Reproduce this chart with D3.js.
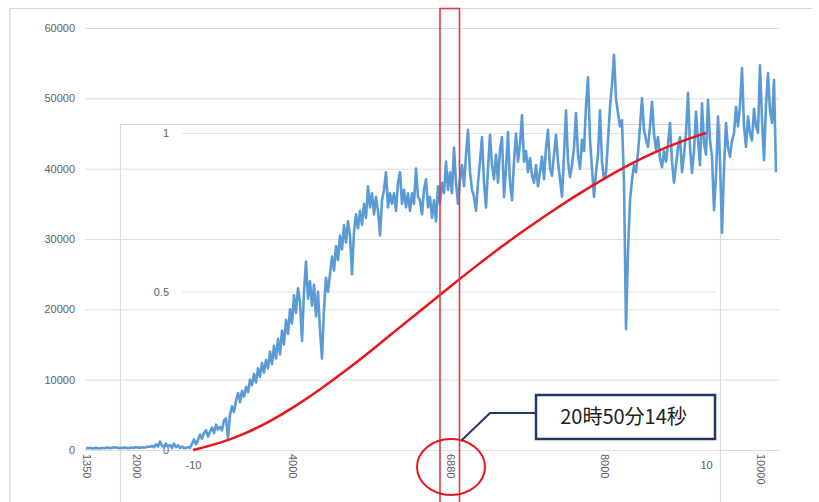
<!DOCTYPE html>
<html>
<head>
<meta charset="utf-8">
<script src="https://cdn.jsdelivr.net/npm/d3@7"></script>
<style>
  html, body { margin: 0; padding: 0; background: #fff; }
  svg { display: block; }
  text { font-family: "Liberation Sans", Arial, sans-serif; }
</style>
</head>
<body>
<svg id="chart" width="819" height="502"></svg>
<script>
// Measured throughput per sample (outer chart, left axis)
const throughput = [
  300, 250, 300, 200, 250, 300, 250, 200, 300, 250,
  300, 350, 250, 300, 400, 350, 300, 250, 300, 350,
  300, 250, 300, 350, 300, 400, 350, 300, 400, 350,
  400, 500, 450, 600, 400, 800, 500, 1200, 600, 400,
  900, 500, 700, 300, 900, 400, 700, 300, 500, 250,
  300, 400, 300, 900, 1500, 800, 1400, 2200, 1600, 2400,
  2800, 1900, 2600, 3200, 2400, 3600, 2900, 3300, 2800, 4200,
  4500, 1700, 5000, 6200, 5400, 7000, 8100, 6800, 8400, 7600,
  9000, 8200, 10000, 9200, 10800, 9600, 11600, 10400, 12400, 11000,
  12800, 11600, 14000, 12200, 14800, 13000, 15800, 13600, 17000, 15000,
  18500, 16500, 20000, 18000, 22000, 19500, 23000, 21000, 15500, 22500,
  26800, 21500, 24000, 20500, 23500, 19000, 22500, 17000, 13000, 20000,
  24500, 22500, 25000, 27500, 25500, 29000, 27000, 30500, 28500, 32000,
  29500, 32500, 30500, 25000, 31000, 33500, 31500, 34000, 32000, 35000,
  33000, 37500, 34500, 36500, 33500, 36000, 34000, 30500, 35500, 37000,
  39500, 34500, 36500, 35000, 36500, 34000, 38000, 39500, 35000, 37000,
  34500, 36500, 34000, 36500, 35000, 40000, 36000, 35500, 33500, 37000,
  38500, 34500, 36000, 33000, 35500, 32500, 37500, 35000, 38000, 36500,
  41000, 37000, 39500, 36500, 43000, 38000, 35000, 38500, 40500, 37500,
  42000, 45500, 39500, 37000, 36000, 34000, 38000, 41000, 44500, 38000,
  34500, 40000, 44800, 40500, 38500, 42000, 38000, 42700, 44500, 36000,
  40000, 45200, 38000, 35500, 41000, 45000, 41000, 43500, 47600, 41000,
  42500, 39500, 41500, 39000, 38000, 40500, 37500, 39500, 41700, 38500,
  43000, 45500, 40000, 39000, 42000, 44800, 41000, 38500, 36000, 42000,
  48300, 41000, 38800, 40500, 43000, 47900, 42000, 40000, 44100, 42500,
  49000, 53000, 44100, 40000, 36000, 39500, 42000, 48300, 41000, 38500,
  39400, 44000, 48800, 52000, 56200, 50000, 47900, 46000, 46900, 38000,
  17200, 28000, 35500, 38400, 40500, 39500, 42200, 46000, 50000, 45500,
  44100, 43100, 46000, 49500, 45000, 42700, 44500, 41500, 40200, 42500,
  41000, 43500, 46500, 41000, 38000, 40500, 43000, 44500, 39500, 42000,
  45000, 50800, 43000, 39400, 42500, 48100, 44000, 40500, 49300, 43500,
  42000, 49800, 44000, 41700, 34100, 39000, 47400, 41000, 30900, 40000,
  46500, 43000, 41700, 44000, 45000, 48800, 46000, 49000, 54300, 46000,
  43100, 47400, 45000, 44000, 48500, 46000, 45100, 54700, 47000, 41200,
  49000, 53600, 48300, 46500, 52600, 39500
];

// Outer category axis: sample positions that carry a label, and the labels
const sampleTickIdx = [0, 25, 103, 182, 259, 337];
const sampleTickLabels = ["1350", "2000", "4000", "6880", "8000", "10000"];
const throughputTicks = [0, 10000, 20000, 30000, 40000, 50000, 60000];

// Inner overlay: cumulative curve over -10..10
const curveX = [-10, -9, -8, -7, -6, -5, -4, -3, -2, -1, 0, 1, 2, 3, 4, 5, 6, 7, 8, 9, 10];
const curveY = [0, 0.02, 0.05, 0.09, 0.138, 0.193, 0.253, 0.317, 0.383, 0.448, 0.514,
                0.578, 0.64, 0.698, 0.754, 0.806, 0.855, 0.9, 0.94, 0.973, 1.0];
const curveYTicks = [0, 0.5, 1];
const curveXTicks = [-10, 10];

// Highlighted sample and its time stamp
const markedSample = 182;
const markedTime = "20時50分14秒";

const svg = d3.select("#chart");

// ---------- outer chart ----------
const xOuter = d3.scaleLinear().domain([0, throughput.length - 1]).range([86, 776]);
const yOuter = d3.scaleLinear().domain([0, 60000]).range([450, 28]);
const gridL = 85, gridR = 780;

// chart frame (top and left edges)
svg.append("path")
  .attr("d", "M10,510 V8.5 H812")
  .attr("fill", "none").attr("stroke", "#d9d9d9").attr("stroke-width", 1.2);

const yAx = svg.append("g")
  .attr("transform", `translate(${gridL},0)`)
  .call(d3.axisLeft(yOuter).tickValues(throughputTicks)
    .tickSize(-(gridR - gridL)).tickPadding(10).tickFormat(d3.format("d")));
yAx.select(".domain").remove();
yAx.selectAll("line").attr("stroke", "#dcdcdc").attr("stroke-width", 1);
yAx.selectAll("text").attr("fill", "#606060").style("font-size", "11px");

const xAx = svg.append("g")
  .attr("transform", `translate(0,${yOuter(0)})`)
  .call(d3.axisBottom(xOuter).tickValues(sampleTickIdx).tickSize(0)
    .tickFormat((d, i) => sampleTickLabels[i]));
xAx.select(".domain").remove();
xAx.selectAll("text")
  .attr("transform", "rotate(90)")
  .attr("x", 4).attr("y", 0).attr("dy", "0.35em")
  .style("text-anchor", "start")
  .attr("fill", "#606060").style("font-size", "11px");

// ---------- inner overlay chart ----------
const xInner = d3.scaleLinear().domain([-10, 10]).range([193, 706]);
const yInner = d3.scaleLinear().domain([0, 1]).range([450, 133]);
const innerGridL = 182, innerGridR = 716;

svg.append("path")
  .attr("d", "M120.5,510 V124.5 H720.5 V510")
  .attr("fill", "none").attr("stroke", "#d9d9d9").attr("stroke-width", 1.2);

const yiAx = svg.append("g")
  .attr("transform", `translate(${innerGridL},0)`)
  .call(d3.axisLeft(yInner).tickValues(curveYTicks)
    .tickSize(-(innerGridR - innerGridL)).tickPadding(13).tickFormat(d => String(d)));
yiAx.select(".domain").remove();
yiAx.selectAll("line").attr("stroke", "#e2e2e2").attr("stroke-width", 1);
yiAx.selectAll("text").attr("fill", "#606060").style("font-size", "11px");

const xiAx = svg.append("g")
  .attr("transform", `translate(0,${yInner(0)})`)
  .call(d3.axisBottom(xInner).tickValues(curveXTicks).tickSize(0).tickPadding(11)
    .tickFormat(d => String(d)));
xiAx.select(".domain").remove();
xiAx.selectAll("text").attr("fill", "#606060").style("font-size", "11px");

// ---------- series ----------
svg.append("path")
  .datum(throughput)
  .attr("fill", "none")
  .attr("stroke", "#5b9bd5")
  .attr("stroke-width", 2.6)
  .attr("stroke-linejoin", "round")
  .attr("d", d3.line().x((d, i) => xOuter(i)).y(d => yOuter(d)));

svg.append("path")
  .datum(curveX.map((x, i) => [x, curveY[i]]))
  .attr("fill", "none")
  .attr("stroke", "#e8161b")
  .attr("stroke-width", 2.5)
  .attr("d", d3.line().curve(d3.curveBasis)
    .x(d => xInner(d[0])).y(d => yInner(d[1])));

// ---------- annotations ----------
const mx = xOuter(markedSample);
svg.append("rect")
  .attr("x", mx - 10).attr("y", 8.5)
  .attr("width", 19.5).attr("height", 520)
  .attr("fill", "none").attr("stroke", "#e23a44").attr("stroke-width", 1.6);

svg.append("ellipse")
  .attr("cx", mx + 1).attr("cy", 467)
  .attr("rx", 34).attr("ry", 28)
  .attr("fill", "none").attr("stroke", "#e8161b").attr("stroke-width", 2);

// callout with leader line
const boxX = 536, boxY = 395, boxW = 179, boxH = 44;
svg.append("path")
  .attr("d", `M${mx + 12},440 L${mx + 40},${boxY + 18} H${boxX}`)
  .attr("fill", "none").attr("stroke", "#1f3864").attr("stroke-width", 2);
svg.append("rect")
  .attr("x", boxX).attr("y", boxY).attr("width", boxW).attr("height", boxH)
  .attr("fill", "#fff").attr("stroke", "#1f3864").attr("stroke-width", 2.5);
svg.append("text")
  .attr("x", boxX + boxW / 2 - 2).attr("y", boxY + boxH / 2)
  .attr("dy", "0.36em")
  .attr("text-anchor", "middle")
  .style("font-family", "'Noto Sans CJK JP', 'Noto Sans', sans-serif")
  .style("font-size", "20px")
  .attr("fill", "#222")
  .text(markedTime);
</script>
</body>
</html>
